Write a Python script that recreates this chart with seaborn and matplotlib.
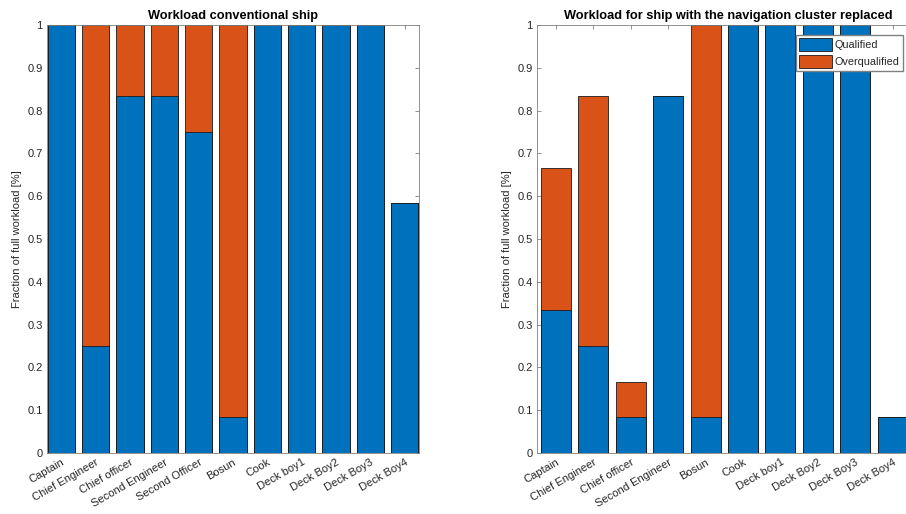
import matplotlib
matplotlib.use("Agg")
import matplotlib.pyplot as plt
import seaborn as sns
import pandas as pd
from matplotlib.patches import Patch

# ---- data ----
left_roles = ["Captain", "Chief Engineer", "Chief officer", "Second Engineer", "Second Officer",
              "Bosun", "Cook", "Deck boy1", "Deck Boy2", "Deck Boy3", "Deck Boy4"]
left_qualified = [1.0, 0.25, 0.8333, 0.8333, 0.75, 0.0833, 1.0, 1.0, 1.0, 1.0, 0.5833]
left_overqualified = [0.0, 0.75, 0.1667, 0.1667, 0.25, 0.9167, 0.0, 0.0, 0.0, 0.0, 0.0]

right_roles = ["Captain", "Chief Engineer", "Chief officer", "Second Engineer",
               "Bosun", "Cook", "Deck boy1", "Deck Boy2", "Deck Boy3", "Deck Boy4"]
right_qualified = [0.3333, 0.25, 0.0833, 0.8333, 0.0833, 1.0, 1.0, 1.0, 1.0, 0.0833]
right_overqualified = [0.3333, 0.5833, 0.0833, 0.0, 0.9167, 0.0, 0.0, 0.0, 0.0, 0.0]

titles = ["Workload conventional ship", "Workload for ship with the navigation cluster replaced"]
ylabel = "Fraction of full workload [%]"
yticks = [0, 0.1, 0.2, 0.3, 0.4, 0.5, 0.6, 0.7, 0.8, 0.9, 1]
ytick_labels = ["0", "0.1", "0.2", "0.3", "0.4", "0.5", "0.6", "0.7", "0.8", "0.9", "1"]
legend_labels = ["Qualified", "Overqualified"]

BLUE = "#0072BD"
ORANGE = "#D95319"
AXC = "#808080"
TXT = "#262626"

sns.set_theme(style="white")
plt.rcParams["font.family"] = ["Liberation Sans", "DejaVu Sans"]

W, H = 906, 514
fig = plt.figure(figsize=(W / 100, H / 100), dpi=100)

def px_axes(l, r, t, b):
    return fig.add_axes([l / W, 1 - b / H, (r - l) / W, (b - t) / H])

ax1 = px_axes(47, 419, 25, 453)
ax2 = px_axes(537, 919, 25, 453)

def draw(ax, roles, q, o, title, xlim):
    df = pd.DataFrame({"role": roles, "q": q, "total": [a + b for a, b in zip(q, o)]})
    sns.barplot(data=df, x="role", y="total", color=ORANGE, saturation=1, width=0.8,
                edgecolor="#1a1a1a", linewidth=0.6, ax=ax, order=roles)
    sns.barplot(data=df, x="role", y="q", color=BLUE, saturation=1, width=0.8,
                edgecolor="#1a1a1a", linewidth=0.6, ax=ax, order=roles)
    ax.set_ylim(0, 1)
    ax.set_xlim(*xlim)
    ax.set_yticks(yticks)
    ax.set_yticklabels(ytick_labels)
    ax.set_xlabel("")
    ax.set_ylabel(ylabel, fontsize=8, color=TXT)
    ax.set_title(title, fontsize=9.2, fontweight="bold", color="black", pad=4)
    ax.set_xticks(range(len(roles)))
    ax.set_xticklabels(roles, rotation=30, ha="right", rotation_mode="anchor", fontsize=8, color=TXT)
    ax.tick_params(axis="both", direction="in", length=3, width=0.6, color=AXC,
                   top=True, right=True, bottom=True, left=True, labelsize=8, labelcolor=TXT, pad=3)
    for sp in ax.spines.values():
        sp.set_visible(True)
        sp.set_color(AXC)
        sp.set_linewidth(0.6)

draw(ax1, left_roles, left_qualified, left_overqualified, titles[0], (-0.42, 10.42))
draw(ax2, right_roles, right_qualified, right_overqualified, titles[1], (-0.5, 9.7))

handles = [Patch(facecolor=BLUE, edgecolor="#1a1a1a", linewidth=0.6, label=legend_labels[0]),
           Patch(facecolor=ORANGE, edgecolor="#1a1a1a", linewidth=0.6, label=legend_labels[1])]
fig.legend(handles=handles, loc="upper right", bbox_to_anchor=(903 / W, 1 - 35 / H),
           fontsize=7.8, frameon=True, fancybox=False, edgecolor=AXC, framealpha=1,
           handlelength=3.0, handleheight=1.5, borderpad=0.3, labelspacing=0.3,
           handletextpad=0.3, borderaxespad=0)

fig.savefig("out.png", dpi=100, facecolor="white")
